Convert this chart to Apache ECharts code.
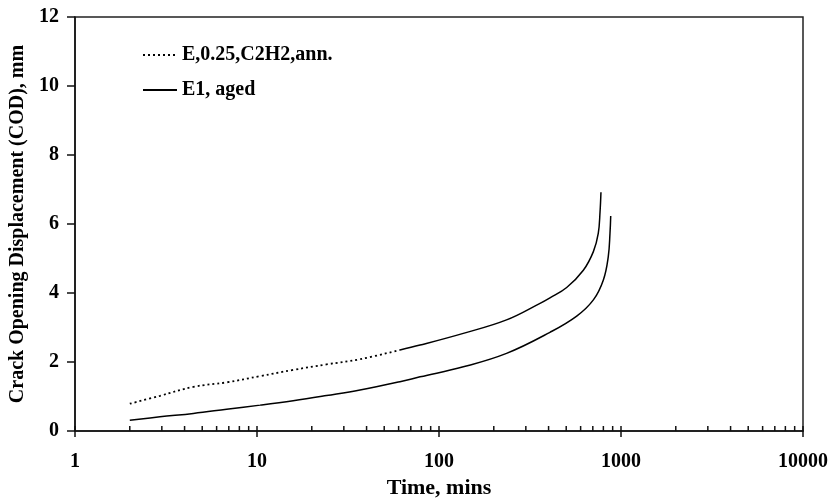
<!DOCTYPE html>
<html>
<head>
<meta charset="utf-8">
<script src="https://cdn.jsdelivr.net/npm/echarts@6/dist/echarts.min.js"></script>
<style>html,body{margin:0;padding:0;background:#fff}#c{width:833px;height:499px}</style>
</head>
<body>
<div id="c"></div>
<script>
// Series names
var annName = 'E,0.25,C2H2,ann.';
var agedName = 'E1, aged';
// E,0.25,C2H2,ann. (time in mins, COD in mm)
var annTime = [2, 2.93, 4.47, 6.81, 10.4, 15.8, 24.1, 36.8, 61, 78.7, 136, 235, 359, 407, 503, 621, 705, 750, 767, 776];
var annCOD  = [0.79, 1.02, 1.28, 1.41, 1.59, 1.77, 1.93, 2.08, 2.35, 2.49, 2.83, 3.22, 3.70, 3.86, 4.16, 4.66, 5.20, 5.73, 6.35, 6.92];
// index where the sparse (dotted-looking) part ends
var annDottedEnd = 8;
// E1, aged
var agedTime = [2, 2.93, 4.47, 6.81, 10.4, 15.8, 24.1, 36.8, 61, 78.7, 136, 235, 407, 571, 705, 800, 851, 870, 878];
var agedCOD  = [0.31, 0.41, 0.51, 0.63, 0.75, 0.88, 1.03, 1.19, 1.43, 1.57, 1.86, 2.25, 2.86, 3.33, 3.80, 4.38, 5.05, 5.73, 6.23];
// x-axis tick values (log axis: majors and minors)
var xMajorTicks = [1, 10, 100, 1000, 10000];
var xMinorMultipliers = [2, 3, 4, 5, 6, 7, 8, 9];

function pairs(xs, ys, a, b) {
  var out = [];
  for (var i = a; i < b; i++) out.push([xs[i], ys[i]]);
  return out;
}
var tickVals = [];
xMajorTicks.forEach(function (m, i) {
  tickVals.push(m);
  if (i < xMajorTicks.length - 1) xMinorMultipliers.forEach(function (k) { tickVals.push(m * k); });
});

var font = '"Liberation Serif", "Times New Roman", serif';
var chart = echarts.init(document.getElementById('c'));
chart.setOption({
  animation: false,
  backgroundColor: '#fff',
  grid: { left: 75, right: 30, top: 17, bottom: 68, outerBoundsMode: 'none', containLabel: false,
    show: true, borderColor: '#222', borderWidth: 1.5, backgroundColor: 'transparent' },
  legend: {
    data: [annName, agedName],
    orient: 'vertical', left: 137, top: 40,
    itemWidth: 34, itemHeight: 14, itemGap: 15,
    itemStyle: { opacity: 0 },
    textStyle: { fontFamily: font, fontWeight: 'bold', fontSize: 20, color: '#000' }
  },
  xAxis: {
    type: 'log', logBase: 10, min: 1, max: 10000,
    name: 'Time, mins', nameLocation: 'middle', nameGap: 46,
    nameTextStyle: { fontFamily: font, fontWeight: 'bold', fontSize: 22, color: '#000' },
    axisLine: { show: true, lineStyle: { color: '#111', width: 1.5 } },
    axisTick: { show: true, inside: false, length: 6, lineStyle: { color: '#111', width: 1.5 } },
    axisLabel: { margin: 21, fontFamily: font, fontWeight: 'bold', fontSize: 20, color: '#000',
      formatter: function (v) { return String(Math.round(v)); } },
    splitLine: { show: false }
  },
  yAxis: {
    type: 'value', min: 0, max: 12, interval: 2,
    name: 'Crack Opening Displacement (COD), mm', nameLocation: 'middle', nameGap: 47,
    nameTextStyle: { fontFamily: font, fontWeight: 'bold', fontSize: 20, color: '#000' },
    axisLine: { show: true, lineStyle: { color: '#111', width: 1.5 } },
    axisTick: { show: true, inside: false, length: 8, lineStyle: { color: '#111', width: 1.5 } },
    axisLabel: { margin: 16, fontFamily: font, fontWeight: 'bold', fontSize: 20, color: '#000' },
    splitLine: { show: false }
  },
  series: [
    {
      name: annName, type: 'line', symbol: 'none', smooth: 0.4,
      data: pairs(annTime, annCOD, 0, annDottedEnd + 1),
      lineStyle: { color: '#000', width: 1.8, type: [2, 3] },
      itemStyle: { color: '#000' }
    },
    {
      name: annName + ' ', type: 'line', symbol: 'none', smooth: 0.4,
      data: pairs(annTime, annCOD, annDottedEnd, annTime.length),
      lineStyle: { color: '#000', width: 1.5, type: 'solid' }
    },
    {
      name: agedName, type: 'line', symbol: 'none', smooth: 0.4,
      data: pairs(agedTime, agedCOD, 0, agedTime.length),
      lineStyle: { color: '#000', width: 1.5, type: 'solid' },
      itemStyle: { color: '#000' }
    },
    {
      name: 'xticks', type: 'custom', silent: true, clip: false,
      data: tickVals.map(function (v) { return [v, 0]; }),
      renderItem: function (params, api) {
        var p = api.coord([api.value(0), 0]);
        return { type: 'line', shape: { x1: p[0], y1: p[1], x2: p[0], y2: p[1] - 5 },
          style: { stroke: '#111', lineWidth: 1.5 } };
      }
    }
  ]
});
</script>
</body>
</html>
